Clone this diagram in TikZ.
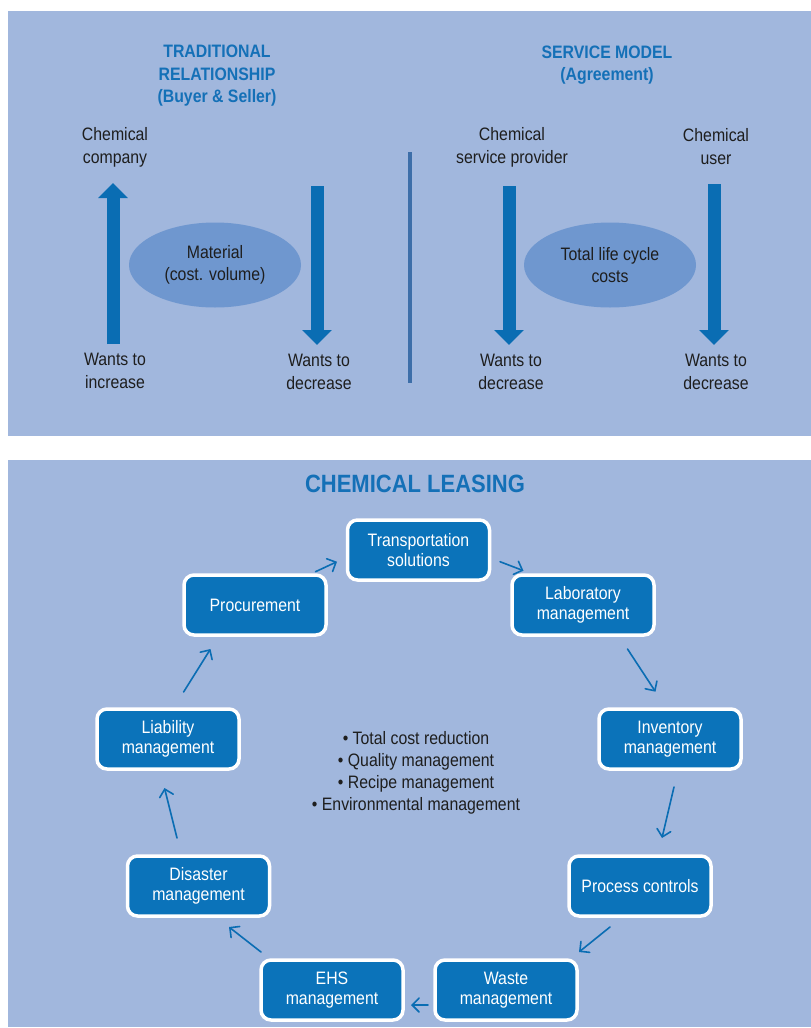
\documentclass[tikz,border=0pt]{standalone}
\usepackage{fontspec}
\setmainfont{Liberation Sans}[FakeStretch=0.88]
\usetikzlibrary{arrows.meta,shapes.geometric}

\definecolor{panel}{HTML}{A1B7DD}
\definecolor{boxblue}{HTML}{0B73BA}
\definecolor{arrowblue}{HTML}{0A6DB3}
\definecolor{headblue}{HTML}{1470B7}
\definecolor{ovalblue}{HTML}{6F97CF}
\definecolor{divider}{HTML}{3D6EA8}
\definecolor{ink}{HTML}{1E1E1E}

\tikzset{
  heading/.style={font=\fontsize{18}{22.5}\selectfont\bfseries, text=headblue, align=center, inner sep=0pt},
  caption/.style={font=\fontsize{18}{23}\selectfont, text=ink, align=center, inner sep=0pt},
  oval/.style={ellipse, fill=ovalblue, minimum width=172pt, minimum height=85pt, inner sep=0pt,
    font=\fontsize{18}{22}\selectfont, text=ink, align=center},
  stage/.style={rounded corners=10pt, fill=boxblue, draw=white, line width=3.5pt,
    minimum width=142pt, minimum height=60pt, inner sep=2pt, text=white,
    font=\fontsize{18}{19.5}\selectfont, align=center},
  bigarrow/.style={draw=arrowblue, line width=13pt, -{Triangle[width=29pt,length=15pt]}},
  flow/.style={draw=arrowblue, line width=1.6pt, line cap=round,
    -{Straight Barb[length=7pt,width=14pt,line cap=round]}},
}

\begin{document}
\begin{tikzpicture}[x=1pt,y=-1pt]
  \useasboundingbox (0,0) rectangle (811,1028);
  \fill[white] (0,0) rectangle (811,1028);

  % ---------- upper panel: two relationship models ----------
  \fill[panel] (8,11) rectangle (811,436);

  \node[heading] (trad) at (217,76) {TRADITIONAL\\RELATIONSHIP\\(Buyer \& Seller)};
  \node[heading] (serv) at (607,65) {SERVICE MODEL\\(Agreement)};

  \draw[divider, line width=4pt] (410,152) -- (410,383);

  \node[oval] (mat) at (215,265) {Material\\(cost. volume)};
  \node[oval] (tlc) at (610,265) {Total life cycle\\costs};

  \node[caption] (cc)  at (115,147) {Chemical\\company};
  \node[caption] (wi)  at (115,371) {Wants to\\increase};
  \node[caption] (wd1) at (319,372) {Wants to\\decrease};
  \node[caption] (csp) at (512,147) {Chemical\\service provider};
  \node[caption] (cu)  at (716,147) {Chemical\\user};
  \node[caption] (wd2) at (511,372) {Wants to\\decrease};
  \node[caption] (wd3) at (716,372) {Wants to\\decrease};

  \coordinate (d1top) at (317,186);

  \draw[bigarrow, shorten <=9pt, shorten >=16pt] ([xshift=-2pt]wi.north) -- ([xshift=-2pt]cc.south);
  \draw[bigarrow, shorten >=9pt] (d1top) -- ([xshift=-2pt]wd1.north);
  \draw[bigarrow, shorten <=19pt, shorten >=9pt] ([xshift=-3pt]csp.south) -- ([xshift=-2pt]wd2.north);
  \draw[bigarrow, shorten <=19pt, shorten >=9pt] ([xshift=-2pt]cu.south) -- ([xshift=-2pt]wd3.north);

  % ---------- lower panel: chemical leasing cycle ----------
  \fill[panel] (8,460) rectangle (811,1027);

  \node[font=\fontsize{25}{28}\selectfont\bfseries, text=headblue] (lease) at (415,484) {CHEMICAL LEASING};

  \node[stage] (trans) at (418.5,550) {Transportation\\solutions};
  \node[stage] (lab)   at (583,605)   {Laboratory\\management};
  \node[stage] (proc)  at (255,605)   {Procurement};
  \node[stage] (liab)  at (168,739)   {Liability\\management};
  \node[stage] (inv)   at (670,739)   {Inventory\\management};
  \node[stage] (dis)   at (198.5,886) {Disaster\\management};
  \node[stage] (pc)    at (640,886)   {Process controls};
  \node[stage] (ehs)   at (332,990)   {EHS\\management};
  \node[stage] (waste) at (506,990)   {Waste\\management};

  \node[font=\fontsize{18}{22}\selectfont, text=ink, align=center] (goals) at (416,773)
    {• Total cost reduction\\• Quality management\\• Recipe management\\• Environmental management};

  \draw[flow] ([shift={(60.5,-33.3)}]proc.center) -- ([shift={(-81.5,11.7)}]trans.center);
  \draw[flow] ([shift={(81.5,11.7)}]trans.center) -- ([shift={(-59.5,-34.3)}]lab.center);
  \draw[flow] ([shift={(44.5,44)}]lab.center) -- ([shift={(-14.5,-47.3)}]inv.center);
  \draw[flow] ([shift={(4,48)}]inv.center) -- ([shift={(22,-48)}]pc.center);
  \draw[flow] ([shift={(-30,41)}]pc.center) -- ([shift={(73,-38)}]waste.center);
  \draw[flow] ([shift={(-78,15)}]waste.center) -- ([shift={(79,15)}]ehs.center);
  \draw[flow] ([shift={(-71,-38)}]ehs.center) -- ([shift={(30.5,41)}]dis.center);
  \draw[flow] ([shift={(-21.5,-48)}]dis.center) -- ([shift={(-3.5,49)}]liab.center);
  \draw[flow] ([shift={(15.6,-47)}]liab.center) -- ([shift={(-44.5,44)}]proc.center);
\end{tikzpicture}
\end{document}
